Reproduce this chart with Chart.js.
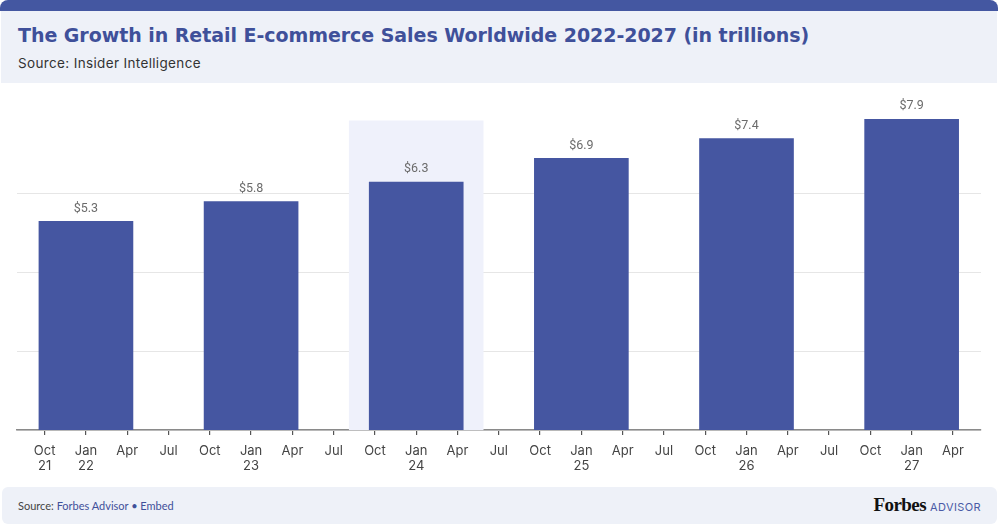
<!DOCTYPE html>
<html>
<head>
<meta charset="utf-8">
<script src="https://cdn.jsdelivr.net/npm/chart.js@4"></script>
<style>
  html, body { margin: 0; padding: 0; background: #ffffff; }
  body { width: 1000px; height: 530px; position: relative; overflow: hidden; font-family: Inter, "Noto Sans", sans-serif; }
  #topbar { position: absolute; left: 0; top: 0; width: 998px; height: 11px; background: #4457a1; border-radius: 8px 8px 0 0; }
  #header { position: absolute; left: 1px; top: 11px; width: 996px; height: 72px; background: #eef1f8; }
  #title { position: absolute; left: 18px; top: 24px; line-height: 22px; font-family: "DejaVu Sans", sans-serif; font-weight: 700; font-size: 19px; color: #3f509a; white-space: nowrap; letter-spacing: -0.05px; }
  #subtitle { position: absolute; left: 18px; top: 55px; line-height: 16px; font-family: Inter, sans-serif; font-size: 13.5px; color: #333333; white-space: nowrap; letter-spacing: 0.35px; }
  #chartwrap { position: absolute; left: 0; top: 85px; width: 1000px; height: 400px; }
  #footer { position: absolute; left: 2px; top: 487px; width: 995px; height: 37px; background: #eef1f8; border-radius: 6px; }
  #source { position: absolute; left: 16px; top: 12px; line-height: 14px; font-family: Lato, sans-serif; font-size: 11px; color: #444444; white-space: nowrap; }
  #source span { color: #3f509a; }
  #logo { position: absolute; right: 16px; top: 7px; white-space: nowrap; }
  #logo .f { font-family: "Liberation Serif", serif; font-weight: 700; font-size: 19px; color: #111111; letter-spacing: -0.6px; }
  #logo .a { font-family: Inter, sans-serif; font-size: 11px; color: #4a5ba6; letter-spacing: 0.4px; margin-left: 4px; }
</style>
</head>
<body>
<div id="topbar"></div>
<div id="header"></div>
<div id="title">The Growth in Retail E-commerce Sales Worldwide 2022-2027 (in trillions)</div>
<div id="subtitle">Source: Insider Intelligence</div>
<div id="chartwrap"><canvas id="c"></canvas></div>
<div id="footer">
  <div id="source">Source: <span>Forbes Advisor • Embed</span></div>
  <div id="logo"><span class="f">Forbes</span><span class="a">ADVISOR</span></div>
</div>
<script>
// ---- data ----
const quarterLabels = [
  ['Oct','21'],['Jan','22'],['Apr',''],['Jul',''],
  ['Oct',''],['Jan','23'],['Apr',''],['Jul',''],
  ['Oct',''],['Jan','24'],['Apr',''],['Jul',''],
  ['Oct',''],['Jan','25'],['Apr',''],['Jul',''],
  ['Oct',''],['Jan','26'],['Apr',''],['Jul',''],
  ['Oct',''],['Jan','27'],['Apr','']
];
const barQuarters = ['Jan 22','Jan 23','Jan 24','Jan 25','Jan 26','Jan 27'];
const sales = [5.3, 5.8, 6.3, 6.9, 7.4, 7.9];
const highlightedQuarter = 'Jan 24';

// ---- helpers ----
function quarterIndex(q) {
  const [m, y] = q.split(' ');
  let idx = -1;
  let year = '';
  quarterLabels.forEach((l, i) => {
    if (l[1]) year = l[1];
    if (l[0] === m && year === y && idx < 0) idx = i;
  });
  return idx;
}

const barColor = '#4556a1';
const highlightColor = '#eff1fb';

const highlightPlugin = {
  id: 'highlight',
  beforeDatasetsDraw(chart) {
    const xs = chart.scales.x;
    const area = chart.chartArea;
    const xi = quarterIndex(highlightedQuarter);
    const left = xs.getPixelForValue(xi - 1.63);
    const right = xs.getPixelForValue(xi + 1.63);
    const ctx = chart.ctx;
    ctx.save();
    ctx.fillStyle = highlightColor;
    ctx.fillRect(left, area.top + 1.5, right - left, area.bottom - area.top - 1.5);
    ctx.restore();
  }
};

const valueLabelPlugin = {
  id: 'valueLabels',
  afterDatasetsDraw(chart) {
    const ctx = chart.ctx;
    const meta = chart.getDatasetMeta(0);
    ctx.save();
    ctx.font = '12.5px Roboto, sans-serif';
    ctx.fillStyle = '#6b6b6b';
    ctx.textAlign = 'center';
    ctx.textBaseline = 'middle';
    meta.data.forEach((bar, i) => {
      ctx.fillText('$' + sales[i].toFixed(1), bar.x, bar.y - 13);
    });
    ctx.restore();
  }
};

new Chart(document.getElementById('c'), {
  type: 'bar',
  data: {
    datasets: [{
      data: barQuarters.map((q, i) => ({ x: quarterIndex(q), y: sales[i] })),
      backgroundColor: barColor,
      borderWidth: 0,
      barThickness: 94
    }]
  },
  options: {
    responsive: true,
    maintainAspectRatio: false,
    animation: false,
    layout: { padding: { left: 17, right: 19, top: 34, bottom: 3 } },
    plugins: { legend: { display: false }, tooltip: { enabled: false } },
    scales: {
      x: {
        type: 'linear',
        offset: false,
        min: -0.67,
        max: quarterLabels.length - 1 + 0.68,
        afterBuildTicks(scale) {
          scale.ticks = quarterLabels.map((_, i) => ({ value: i }));
        },
        ticks: {
          autoSkip: false,
          maxRotation: 0,
          padding: 8.5,
          color: '#444444',
          font: { family: 'Inter, sans-serif', size: 13, lineHeight: 1.15 },
          callback: (v, i) => quarterLabels[i]
        },
        grid: { display: true, offset: false, drawOnChartArea: false, drawTicks: true, tickLength: 5, color: '#555555', lineWidth: 1.2 },
        border: { display: true, color: '#8a8a8a', width: 1.5 }
      },
      y: {
        min: 0,
        max: Math.max(...sales),
        ticks: { display: false, stepSize: 2, includeBounds: false },
        grid: { color: '#e6e6e6', drawTicks: false, lineWidth: 1 },
        border: { display: false }
      }
    }
  },
  plugins: [highlightPlugin, valueLabelPlugin]
});
</script>
</body>
</html>
